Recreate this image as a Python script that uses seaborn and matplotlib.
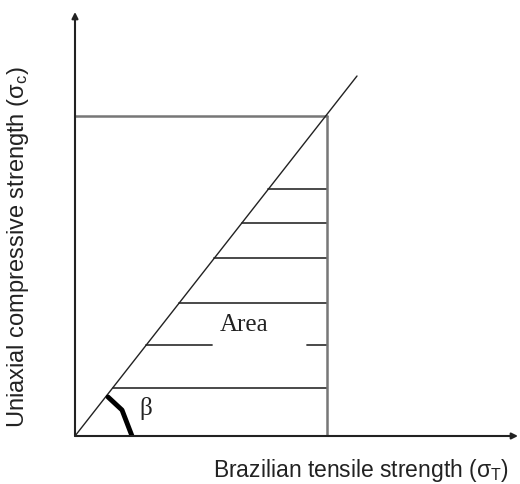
import numpy as np
import pandas as pd
import matplotlib
matplotlib.use('Agg')
import matplotlib.pyplot as plt
import seaborn as sns

# Schematic: sigma_c vs sigma_T, data units ~ pixels from origin
line_t = [0, 282]          # diagonal sigma_c = k * sigma_T
line_c = [0, 360]
t_max = 252                # vertical limit (sigma_T)
c_max = 320                # horizontal limit (sigma_c)
hatch_levels = [48, 91, 133, 178, 213, 247]
area_gap = [137, 232]      # gap in the hatch line holding "Area"
beta_t = [33, 47, 57]
beta_c = [39, 26, 0]
x_end = 443
y_end = 424

sns.set_style('white')
W, H = 520, 484
fig = plt.figure(figsize=(W / 100, H / 100), dpi=100)
ax = fig.add_axes([75 / W, (H - 436) / H, x_end / W, y_end / H])
ax.set_xlim(0, x_end)
ax.set_ylim(0, y_end)
ax.axis('off')

slope = line_c[1] / line_t[1]

# hatch segments
rows = []
seg = 0
for lev in hatch_levels:
    x0 = lev / slope
    if lev == 91:
        parts = [(x0, area_gap[0]), (area_gap[1], t_max)]
    else:
        parts = [(x0, t_max)]
    for a, b in parts:
        rows.append({'seg': seg, 'x': a, 'y': lev})
        rows.append({'seg': seg, 'x': b, 'y': lev})
        seg += 1
hatch = pd.DataFrame(rows)
sns.lineplot(data=hatch, x='x', y='y', units='seg', estimator=None, sort=False,
             color='#3a3a3a', linewidth=1.3, ax=ax, legend=False)

# bounding lines
sns.lineplot(x=[0, t_max], y=[c_max, c_max], color='#777777', linewidth=1.8,
             estimator=None, ax=ax)
sns.lineplot(x=[t_max, t_max], y=[0, c_max], color='#777777', linewidth=1.8,
             estimator=None, sort=False, ax=ax)

# diagonal
sns.lineplot(x=line_t, y=line_c, color='#222222', linewidth=1.0,
             estimator=None, ax=ax)

# beta mark
sns.lineplot(x=beta_t, y=beta_c, color='black', linewidth=3.5,
             estimator=None, sort=False, ax=ax)

# axes with arrows
arrow = dict(arrowstyle='-|>', color='#222222', lw=1.5, mutation_scale=9,
             shrinkA=0, shrinkB=0)
ax.annotate('', xy=(x_end, 0), xytext=(0, 0), arrowprops=arrow, annotation_clip=False)
ax.annotate('', xy=(0, y_end), xytext=(0, 0), arrowprops=arrow, annotation_clip=False)

ax.text(169, 111, 'Area', family='Liberation Serif', fontsize=18,
        ha='center', va='center', color='#222222')
ax.text(71, 27, 'β', family='Liberation Serif', fontsize=18,
        ha='center', va='center', color='#222222')

plt.rcParams['mathtext.fontset'] = 'custom'
plt.rcParams['mathtext.rm'] = 'Liberation Sans'
plt.rcParams['mathtext.it'] = 'Liberation Sans'

fig.text(509 / W, 1 - 470 / H, r'Brazilian tensile strength (σ$_{\mathrm{T}}$)',
         family='Liberation Sans', fontsize=16.5, ha='right', va='center',
         color='#222222')
fig.text(18 / W, 1 - 247 / H, r'Uniaxial compressive strength (σ$_{\mathrm{c}}$)',
         family='Liberation Sans', fontsize=17, ha='center', va='center',
         rotation=90, color='#222222')

fig.savefig('out.png', dpi=100)
